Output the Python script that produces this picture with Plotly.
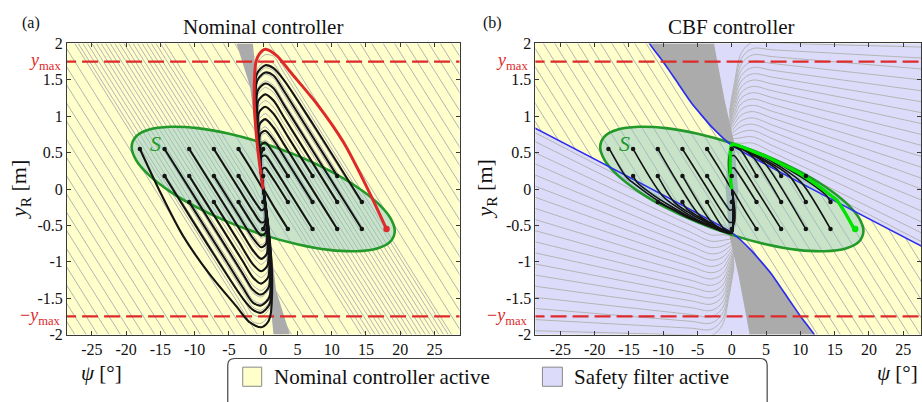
import plotly.graph_objects as go

W, H = 922, 402
FONT = "Liberation Serif"

# ---------------- values ----------------
psi_tick_vals = [-25, -20, -15, -10, -5, 0, 5, 10, 15, 20, 25]
psi_tick_text = ["-25", "-20", "-15", "-10", "-5", "0", "5", "10", "15", "20", "25"]
y_tick_vals = [2, 1.5, 1, 0.5, 0, -0.5, -1, -1.5, -2]
y_tick_text = ["2", "1.5", "1", "0.5", "0", "-0.5", "-1", "-1.5", "-2"]
psi_range_left = [-28.65, 28.65]
psi_range_right = [-28.65, 27.6]
y_range = [-2.0, 2.0]
y_max = 1.75

# safe set S (ellipse boundary)
ellipse_psi = [19.2, 18.55, 16.63, 13.58, 9.6, 4.97, 0, -4.97, -9.6, -13.58, -16.63, -18.55,
               -19.2, -18.55, -16.63, -13.58, -9.6, -4.97, 0, 4.97, 9.6, 13.58, 16.63, 18.55, 19.2]
ellipse_y = [-0.58, -0.397, -0.187, 0.035, 0.256, 0.459, 0.63, 0.759, 0.836, 0.855, 0.817, 0.723,
             0.58, 0.397, 0.187, -0.035, -0.256, -0.459, -0.63, -0.759, -0.836, -0.855, -0.817, -0.723, -0.58]

# initial conditions (black dots)
ic_psi = [14.4, 14.4, 10.8, 10.8, 10.8, 7.2, 7.2, 7.2, 3.6, 3.6, 3.6, 0, 0,
          -18, -14.4, -14.4, -10.8, -10.8, -10.8, -7.2, -7.2, -7.2, -3.6, -3.6, -3.6, 0, 0]
ic_y = [-0.55, -0.18, -0.55, -0.18, 0.18, -0.55, -0.18, 0.18, -0.55, -0.18, 0.18, -0.55, -0.18,
        0.55, 0.55, 0.18, 0.55, 0.18, -0.18, 0.55, 0.18, -0.18, 0.55, 0.18, -0.18, 0.55, 0.18]
worst_psi = [18.0]
worst_y = [-0.55]

# nominal controller: trajectories
nominal_worst = [(18.0, -0.55), (15.1, 0.03), (11.7, 0.645), (7.83, 1.17), (3.94, 1.61), (2.0, 1.83),
                 (0.3, 1.92), (-0.6, 1.85), (-1.05, 1.75), (-1.25, 1.55), (-1.3, 1.17), (-0.9, 0.64),
                 (-0.4, 0.25), (0, 0)]
nominal_paths = [
    [(14.4, -0.55), (7.2, 0.53), (3.0, 1.16), (1.5, 1.385), (0.3, 1.45), (-0.8, 1.35), (-0.99, 0.87), (-0.65, 0.48), (0, 0)],
    [(14.4, -0.18), (7.2, 0.90), (3.0, 1.50), (1.5, 1.66), (0.3, 1.70), (-0.94, 1.58), (-1.16, 1.02), (-0.77, 0.56), (0, 0)],
    [(10.8, -0.55), (5.4, 0.26), (3.0, 0.62), (1.5, 0.845), (0.3, 0.96), (-0.53, 0.89), (-0.65, 0.58), (-0.43, 0.32), (0, 0)],
    [(10.8, -0.18), (5.4, 0.63), (3.0, 0.99), (1.5, 1.215), (0.3, 1.30), (-0.72, 1.21), (-0.88, 0.78), (-0.59, 0.43), (0, 0)],
    [(10.8, 0.18), (5.4, 0.99), (3.0, 1.35), (1.5, 1.56), (0.3, 1.60), (-0.88, 1.49), (-1.09, 0.96), (-0.72, 0.53), (0, 0)],
    [(7.2, -0.55), (3.6, -0.01), (1.5, 0.305), (0.3, 0.46), (-0.26, 0.44), (-0.33, 0.29), (-0.22, 0.16), (0, 0)],
    [(7.2, -0.18), (3.6, 0.36), (1.5, 0.675), (0.3, 0.80), (-0.45, 0.75), (-0.55, 0.49), (-0.36, 0.27), (0, 0)],
    [(7.2, 0.18), (3.6, 0.72), (1.5, 1.035), (0.3, 1.13), (-0.62, 1.05), (-0.77, 0.68), (-0.51, 0.37), (0, 0)],
    [(3.6, -0.55), (1.8, -0.28), (0.8, -0.12), (0.3, -0.04), (0, 0)],
    [(3.6, -0.18), (1.8, 0.09), (0.8, 0.23), (0.3, 0.29), (-0.17, 0.27), (-0.2, 0.17), (-0.12, 0.09), (0, 0)],
    [(3.6, 0.18), (1.8, 0.45), (0.8, 0.59), (0.3, 0.64), (-0.36, 0.6), (-0.44, 0.39), (-0.29, 0.21), (0, 0)],
    [(0, -0.55), (0.4, -0.45), (0.45, -0.3), (0.25, -0.14), (0, 0)],
    [(0, -0.18), (0.15, -0.12), (0.1, -0.05), (0, 0)],
    [(-18.0, 0.55), (-15.1, -0.03), (-11.7, -0.645), (-7.83, -1.17), (-3.94, -1.61), (-2.0, -1.83), (-0.3, -1.9),
     (0.6, -1.84), (1.05, -1.74), (1.25, -1.55), (1.3, -1.17), (0.9, -0.64), (0.4, -0.25), (0, 0)],
    [(-14.4, 0.55), (-7.2, -0.53), (-3.0, -1.16), (-1.5, -1.385), (-0.3, -1.45), (0.8, -1.35), (0.99, -0.87), (0.65, -0.48), (0, 0)],
    [(-14.4, 0.18), (-7.2, -0.90), (-3.0, -1.50), (-1.5, -1.66), (-0.3, -1.70), (0.94, -1.58), (1.16, -1.02), (0.77, -0.56), (0, 0)],
    [(-10.8, 0.55), (-5.4, -0.26), (-3.0, -0.62), (-1.5, -0.845), (-0.3, -0.96), (0.53, -0.89), (0.65, -0.58), (0.43, -0.32), (0, 0)],
    [(-10.8, 0.18), (-5.4, -0.63), (-3.0, -0.99), (-1.5, -1.215), (-0.3, -1.30), (0.72, -1.21), (0.88, -0.78), (0.59, -0.43), (0, 0)],
    [(-10.8, -0.18), (-5.4, -0.99), (-3.0, -1.35), (-1.5, -1.56), (-0.3, -1.60), (0.88, -1.49), (1.09, -0.96), (0.72, -0.53), (0, 0)],
    [(-7.2, 0.55), (-3.6, 0.01), (-1.5, -0.305), (-0.3, -0.46), (0.26, -0.44), (0.33, -0.29), (0.22, -0.16), (0, 0)],
    [(-7.2, 0.18), (-3.6, -0.36), (-1.5, -0.675), (-0.3, -0.80), (0.45, -0.75), (0.55, -0.49), (0.36, -0.27), (0, 0)],
    [(-7.2, -0.18), (-3.6, -0.72), (-1.5, -1.035), (-0.3, -1.13), (0.62, -1.05), (0.77, -0.68), (0.51, -0.37), (0, 0)],
    [(-3.6, 0.55), (-1.8, 0.28), (-0.8, 0.12), (-0.3, 0.04), (0, 0)],
    [(-3.6, 0.18), (-1.8, -0.09), (-0.8, -0.23), (-0.3, -0.29), (0.17, -0.27), (0.2, -0.17), (0.12, -0.09), (0, 0)],
    [(-3.6, -0.18), (-1.8, -0.45), (-0.8, -0.59), (-0.3, -0.64), (0.36, -0.6), (0.44, -0.39), (0.29, -0.21), (0, 0)],
    [(0, 0.55), (-0.4, 0.45), (-0.45, 0.3), (-0.25, 0.14), (0, 0)],
    [(0, 0.18), (-0.15, 0.12), (-0.1, 0.05), (0, 0)],
]

# CBF controller: trajectories
cbf_worst = [(17.8, -0.54), (15.5, -0.175), (14.6, -0.1), (12.2, 0.07), (9.8, 0.22), (7.3, 0.34), (4.9, 0.45),
             (3.0, 0.52), (1.5, 0.58), (0, 0.61), (-0.2, 0.5), (-0.25, 0.3), (-0.15, 0.1), (0, 0)]
cbf_paths = [
    [(14.4, -0.55), (10.1, 0.095), (7.5, 0.28), (4.9, 0.43), (2.5, 0.53), (1.0, 0.58), (0, 0.6), (-0.2, 0.48), (-0.25, 0.3), (-0.15, 0.1), (0, 0)],
    [(14.4, -0.18), (13.8, -0.09), (11.5, 0.08), (9.0, 0.23), (6.0, 0.39), (3.0, 0.51), (1.0, 0.58), (0, 0.6), (-0.2, 0.48), (-0.25, 0.3), (-0.15, 0.1), (0, 0)],
    [(10.8, -0.55), (4.7, 0.365), (3.0, 0.47), (1.5, 0.55), (0, 0.6), (-0.2, 0.48), (-0.25, 0.3), (-0.15, 0.1), (0, 0)],
    [(10.8, -0.18), (8.4, 0.18), (6.0, 0.34), (3.5, 0.47), (1.5, 0.56), (0, 0.6), (-0.2, 0.48), (-0.25, 0.3), (-0.15, 0.1), (0, 0)],
    [(10.8, 0.18), (8.5, 0.29), (6.0, 0.41), (3.5, 0.50), (1.5, 0.57), (0, 0.6), (-0.2, 0.48), (-0.25, 0.3), (-0.15, 0.1), (0, 0)],
    [(7.2, -0.55), (3.6, -0.01), (1.5, 0.305), (0.3, 0.46), (-0.26, 0.44), (-0.33, 0.29), (-0.22, 0.16), (0, 0)],
    [(7.2, -0.18), (3.0, 0.45), (1.5, 0.55), (0, 0.6), (-0.2, 0.48), (-0.25, 0.3), (-0.15, 0.1), (0, 0)],
    [(7.2, 0.18), (6.6, 0.27), (4.5, 0.40), (2.5, 0.51), (1.0, 0.57), (0, 0.6), (-0.2, 0.48), (-0.25, 0.3), (-0.15, 0.1), (0, 0)],
    [(3.6, -0.55), (1.8, -0.28), (0.8, -0.12), (0.3, -0.04), (0, 0)],
    [(3.6, -0.18), (1.8, 0.09), (0.8, 0.23), (0.3, 0.29), (-0.17, 0.27), (-0.2, 0.17), (-0.12, 0.09), (0, 0)],
    [(3.6, 0.18), (1.2, 0.54), (0.4, 0.58), (0, 0.6), (-0.2, 0.48), (-0.25, 0.3), (-0.15, 0.1), (0, 0)],
    [(0, -0.55), (0.4, -0.45), (0.45, -0.3), (0.25, -0.14), (0, 0)],
    [(0, -0.18), (0.15, -0.12), (0.1, -0.05), (0, 0)],
    [(-17.8, 0.54), (-15.5, 0.175), (-14.6, 0.1), (-12.2, -0.07), (-9.8, -0.22), (-7.3, -0.34), (-4.9, -0.45),
     (-3.0, -0.52), (-1.5, -0.58), (0, -0.61), (0.2, -0.5), (0.25, -0.3), (0.15, -0.1), (0, 0)],
    [(-14.4, 0.55), (-10.1, -0.095), (-7.5, -0.28), (-4.9, -0.43), (-2.5, -0.53), (-1.0, -0.58), (0, -0.6), (0.2, -0.48), (0.25, -0.3), (0.15, -0.1), (0, 0)],
    [(-14.4, 0.18), (-13.8, 0.09), (-11.5, -0.08), (-9.0, -0.23), (-6.0, -0.39), (-3.0, -0.51), (-1.0, -0.58), (0, -0.6), (0.2, -0.48), (0.25, -0.3), (0.15, -0.1), (0, 0)],
    [(-10.8, 0.55), (-4.7, -0.365), (-3.0, -0.47), (-1.5, -0.55), (0, -0.6), (0.2, -0.48), (0.25, -0.3), (0.15, -0.1), (0, 0)],
    [(-10.8, 0.18), (-8.4, -0.18), (-6.0, -0.34), (-3.5, -0.47), (-1.5, -0.56), (0, -0.6), (0.2, -0.48), (0.25, -0.3), (0.15, -0.1), (0, 0)],
    [(-10.8, -0.18), (-8.5, -0.29), (-6.0, -0.41), (-3.5, -0.50), (-1.5, -0.57), (0, -0.6), (0.2, -0.48), (0.25, -0.3), (0.15, -0.1), (0, 0)],
    [(-7.2, 0.55), (-3.6, 0.01), (-1.5, -0.305), (-0.3, -0.46), (0.26, -0.44), (0.33, -0.29), (0.22, -0.16), (0, 0)],
    [(-7.2, 0.18), (-3.0, -0.45), (-1.5, -0.55), (0, -0.6), (0.2, -0.48), (0.25, -0.3), (0.15, -0.1), (0, 0)],
    [(-7.2, -0.18), (-6.6, -0.27), (-4.5, -0.40), (-2.5, -0.51), (-1.0, -0.57), (0, -0.6), (0.2, -0.48), (0.25, -0.3), (0.15, -0.1), (0, 0)],
    [(-3.6, 0.55), (-1.8, 0.28), (-0.8, 0.12), (-0.3, 0.04), (0, 0)],
    [(-3.6, 0.18), (-1.8, -0.09), (-0.8, -0.23), (-0.3, -0.29), (0.17, -0.27), (0.2, -0.17), (0.12, -0.09), (0, 0)],
    [(-3.6, -0.18), (-1.2, -0.54), (-0.4, -0.58), (0, -0.6), (0.2, -0.48), (0.25, -0.3), (0.15, -0.1), (0, 0)],
    [(0, 0.55), (-0.4, 0.45), (-0.45, 0.3), (-0.25, 0.14), (0, 0)],
    [(0, 0.18), (-0.15, 0.12), (-0.1, 0.05), (0, 0)],
]

# background streamlines: slope of the nominal flow lines and their y-intercepts at psi = 0
stream_slope = 0.15
stream_intercepts = [-6.125, -5.875, -5.625, -5.375, -5.125, -4.875, -4.625, -4.375, -4.125, -3.875,
                     -3.625, -3.375, -3.125, -2.875, -2.625, -2.375, -2.125, -1.875, -1.625, -1.375,
                     -1.125, -0.875, -0.625, -0.375, -0.125, 0.125, 0.375, 0.625, 0.875, 1.125, 1.375,
                     1.625, 1.875, 2.125, 2.375, 2.625, 2.875, 3.125, 3.375, 3.625, 3.875, 4.125, 4.375,
                     4.625, 4.875, 5.125, 5.375, 5.625, 5.875, 6.125]
# heights of the grey humps / loops near psi = 0 (nominal controller)
hump_levels = [0.15, 0.25, 0.35, 0.45, 0.55, 0.65, 0.75, 0.85, 0.95, 1.05, 1.15, 1.25, 1.35,
               1.45, 1.55, 1.65, 1.75, 1.85, 1.95, 2.05]
# safety-filter streamlines: edge heights where they enter the panel
cbf_edge_levels = [1.95, 1.80, 1.65, 1.50, 1.35, 1.20, 1.05, 0.90, 0.75, 0.60, 0.45,
                   0.30, 0.15, 0.00, -0.15, -0.30, -0.45, -0.60, -0.72]

# dense convergence wedge of the nominal flow
wedge_psi = [-3.9, -1.5, -0.7, -0.05, 0.35, 0.9, 1.9, 3.9, 1.5, 0.7, 0.05, -0.35, -0.9, -1.9, -3.9]
wedge_y = [2.0, 2.0, 1.2, 0.4, 0.0, -0.6, -1.4, -2.0, -2.0, -1.2, -0.4, 0.0, 0.6, 1.4, 2.0]

# CBF regions (safety filter active) and boundaries
lav_up_psi = [-12.1, 29.0, 29.0, 0.0, -2.9, -5.8, -8.2, -10.1, -12.0]
lav_up_y = [2.1, 2.1, -0.85, 0.6, 0.85, 1.17, 1.5, 1.76, 2.0]
lav_dn_psi = [12.1, -29.0, -29.0, 0.0, 2.9, 5.8, 8.2, 10.1, 12.0]
lav_dn_y = [-2.1, -2.1, 0.85, -0.6, -0.85, -1.17, -1.5, -1.76, -2.0]
blue_up_psi = [29.0, 0.0, -2.9, -5.8, -8.2, -10.1, -12.0, -12.1]
blue_up_y = [-0.85, 0.6, 0.85, 1.17, 1.5, 1.76, 2.0, 2.1]
blue_dn_psi = [-29.0, 0.0, 2.9, 5.8, 8.2, 10.1, 12.0, 12.1]
blue_dn_y = [0.85, -0.6, -0.85, -1.17, -1.5, -1.76, -2.0, -2.1]
band_psi = [-12.0, -2.6, -1.0, -0.2, 0.4, 0.9, 0.6, 0.0, 2.9, 5.8, 8.2, 10.1, 12.0,
            2.6, 1.0, 0.2, -0.4, -0.9, -0.6, 0.0, -2.9, -5.8, -8.2, -10.1, -12.0]
band_y = [2.0, 2.0, 1.2, 0.85, 0.62, 0.0, -0.5, -0.6, -0.85, -1.17, -1.5, -1.76, -2.0,
          -2.0, -1.2, -0.85, -0.62, 0.0, 0.5, 0.6, 0.85, 1.17, 1.5, 1.76, 2.0]

# ---------------- styles ----------------
YELLOW = "#ffffcc"
LAVENDER = "#dcdcfa"
GRAY = "#b4b4b4"
DENSE = "#ababab"
RED = "#dd2a2a"
GREEN_S = "#23992a"
FILL_S = "rgba(145,200,195,0.5)"
BLUE = "#2d2df0"
LIME = "#00e400"
BLACK = "#141414"

fig = go.Figure()


def add_paths(paths, xa, ya, color, width, shape="spline", smoothing=0.8):
    xs, ys = [], []
    for p in paths:
        for a, b in p:
            xs.append(a)
            ys.append(b)
        xs.append(None)
        ys.append(None)
    fig.add_trace(go.Scatter(x=xs, y=ys, mode="lines", xaxis=xa, yaxis=ya, hoverinfo="skip",
                             showlegend=False,
                             line=dict(color=color, width=width, shape=shape, smoothing=smoothing)))


def add_poly(px_, py_, xa, ya, color):
    fig.add_trace(go.Scatter(x=px_, y=py_, mode="lines", fill="toself", fillcolor=color,
                             line=dict(width=0, color=color), xaxis=xa, yaxis=ya,
                             hoverinfo="skip", showlegend=False))


def straight(I):
    s = stream_slope
    return [((I - 2.0) / s, 2.0), ((I + 2.0) / s, -2.0)]


def feed(I):
    s = stream_slope
    return [((I - 2.0) / s, 2.0), (-0.8 * I, 1.12 * I)]


def hump(I):
    s = stream_slope
    h = 0.9 * I
    return [((I + 2.0) / s, -2.0), (3.0, I - 3 * s), (1.5, I - 1.5 * s), (0.3, h),
            (-0.55 * h, 0.93 * h), (-0.68 * h, 0.6 * h), (-0.45 * h, 0.33 * h), (0.0, 0.0)]


def flip(p):
    return [(-a, -b) for a, b in p]


def cbf_arc(level):
    a = 0.05 * (2.1 - level) / 2.9
    pts = [(q, level + a * (27.6 - q)) for q in (28.7, 20.0, 12.0, 6.0, 3.0)]
    y3 = pts[-1][1]
    d = y3 - 0.6
    pts += [(1.4, y3 - 0.1 * d), (0.4, 0.62 + 0.6 * d), (-0.3, 0.66 + 0.3 * d)]
    return pts


# ---------------- left panel: nominal controller ----------------
left_straight = []
for I in stream_intercepts:
    if abs(I) >= 2.0:
        left_straight.append(straight(I))
    elif I > 0:
        left_straight.append(feed(I))
    else:
        left_straight.append(flip(feed(-I)))
left_curved = [hump(L) for L in hump_levels] + [flip(hump(L)) for L in hump_levels]
add_paths(left_straight, "x", "y", GRAY, 1.0, shape="linear")
add_paths(left_curved, "x", "y", GRAY, 1.0, smoothing=0.7)
add_poly(wedge_psi, wedge_y, "x", "y", DENSE)

# ---------------- right panel: CBF controller ----------------
add_paths([straight(I) for I in stream_intercepts], "x2", "y2", GRAY, 1.0, shape="linear")
add_poly(lav_up_psi, lav_up_y, "x2", "y2", LAVENDER)
add_poly(lav_dn_psi, lav_dn_y, "x2", "y2", LAVENDER)
arcs = [cbf_arc(L) for L in cbf_edge_levels] + [flip(cbf_arc(L)) for L in cbf_edge_levels]
add_paths(arcs, "x2", "y2", GRAY, 1.0, smoothing=1.0)
add_poly(band_psi, band_y, "x2", "y2", DENSE)

for xa, ya in (("x", "y"), ("x2", "y2")):
    fig.add_trace(go.Scatter(x=ellipse_psi, y=ellipse_y, mode="lines", fill="toself", fillcolor=FILL_S,
                             line=dict(color=GREEN_S, width=2.6, shape="spline", smoothing=1.0),
                             xaxis=xa, yaxis=ya, hoverinfo="skip", showlegend=False))

for bx, by in ((blue_up_psi, blue_up_y), (blue_dn_psi, blue_dn_y)):
    fig.add_trace(go.Scatter(x=bx, y=by, mode="lines", xaxis="x2", yaxis="y2",
                             line=dict(color=BLUE, width=1.7, shape="spline", smoothing=0.4),
                             hoverinfo="skip", showlegend=False))

for xa, ya, rng in (("x", "y", psi_range_left), ("x2", "y2", psi_range_right)):
    for yy in (y_max, -y_max):
        fig.add_trace(go.Scatter(x=[rng[0] - 1, rng[1] + 2], y=[yy, yy], mode="lines", xaxis=xa, yaxis=ya,
                                 line=dict(color=RED, width=2.2, dash="16px,6px"),
                                 hoverinfo="skip", showlegend=False))

# trajectories
add_paths(nominal_paths, "x", "y", BLACK, 2.1)
add_paths([nominal_worst], "x", "y", RED, 3.0)
add_paths(cbf_paths, "x2", "y2", BLACK, 1.6)
add_paths([cbf_worst], "x2", "y2", LIME, 3.4)

for xa, ya, col in (("x", "y", RED), ("x2", "y2", LIME)):
    fig.add_trace(go.Scatter(x=ic_psi, y=ic_y, mode="markers", xaxis=xa, yaxis=ya,
                             marker=dict(color=BLACK, size=4.5), hoverinfo="skip", showlegend=False))
    fig.add_trace(go.Scatter(x=worst_psi, y=worst_y, mode="markers", xaxis=xa, yaxis=ya,
                             marker=dict(color=col, size=6.5), hoverinfo="skip", showlegend=False))


# ---------------- layout ----------------
def px(x):
    return x / W


def py(y):
    return 1 - y / H


axis_common = dict(showgrid=False, zeroline=False, showline=True, linecolor="#3a3a3a", linewidth=1,
                   mirror="ticks", ticks="inside", ticklen=4, tickcolor="#3a3a3a",
                   tickfont=dict(family=FONT, size=16, color="#111"))
ydom = [py(341), py(37)]
fig.update_layout(
    width=W, height=H, margin=dict(l=0, r=0, t=0, b=0),
    paper_bgcolor="white", plot_bgcolor=YELLOW, showlegend=False,
    xaxis=dict(domain=[px(67), px(460)], range=psi_range_left, anchor="y",
               tickvals=psi_tick_vals, ticktext=psi_tick_text, **axis_common),
    yaxis=dict(domain=ydom, range=y_range, anchor="x",
               tickvals=y_tick_vals, ticktext=y_tick_text, **axis_common),
    xaxis2=dict(domain=[px(536), 1.0], range=psi_range_right, anchor="y2",
                tickvals=psi_tick_vals, ticktext=psi_tick_text, **axis_common),
    yaxis2=dict(domain=ydom, range=y_range, anchor="x2",
                tickvals=y_tick_vals, ticktext=y_tick_text, **axis_common),
)

ann = []


def text(x, y, s, size, color="#111", xanchor="center", angle=0, xref="paper", yref="paper"):
    ann.append(dict(x=x, y=y, xref=xref, yref=yref, text=s, showarrow=False, xanchor=xanchor,
                    yanchor="middle", textangle=angle, font=dict(family=FONT, size=size, color=color)))


text(px(263), py(20), "Nominal controller", 21)
text(px(732), py(20), "CBF controller", 21)
text(px(31), py(16), "(a)", 16)
text(px(493), py(16), "(b)", 16)
text(px(20), py(189), "<i>y</i><sub>R</sub> [m]", 22, angle=-90)
text(px(487), py(189), "<i>y</i><sub>R</sub> [m]", 22, angle=-90)
text(px(102), py(381), "<i>ψ</i> [°]", 21)
text(px(921), py(381), "<i>ψ</i> [°]", 21, xanchor="right")
for xr, ar in ((px(63), "y"), (px(531), "y2")):
    text(xr, y_max, "<i>y</i><sub>max</sub>", 18, color=RED, xanchor="right", yref=ar)
    text(xr, -y_max, "−<i>y</i><sub>max</sub>", 18, color=RED, xanchor="right", yref=ar)
text(-15.7, 0.62, "<i>S</i>", 22, color=GREEN_S, xref="x", yref="y")
text(-15.7, 0.62, "<i>S</i>", 22, color=GREEN_S, xref="x2", yref="y2")

# legend box
text(px(272), py(385), "Nominal controller active", 21, xanchor="left")
text(px(573), py(385), "Safety filter active", 21, xanchor="left")
fig.update_layout(annotations=ann)

rx, ry = 7 / W, 7 / H
x0, x1, yt, yb = px(228), px(768), py(366), py(412)
path = (f"M {x0},{yb} L {x0},{yt - ry} Q {x0},{yt} {x0 + rx},{yt} L {x1 - rx},{yt} "
        f"Q {x1},{yt} {x1},{yt - ry} L {x1},{yb}")
shapes = [
    dict(type="path", xref="paper", yref="paper", path=path, fillcolor="white",
         line=dict(color="#444", width=1.2)),
    dict(type="rect", xref="paper", yref="paper", x0=px(243), x1=px(262), y0=py(395), y1=py(375),
         fillcolor=YELLOW, line=dict(color="#888", width=1)),
    dict(type="rect", xref="paper", yref="paper", x0=px(543), x1=px(563), y0=py(395), y1=py(375),
         fillcolor=LAVENDER, line=dict(color="#888", width=1)),
]
fig.update_layout(shapes=shapes)

fig.write_html("out.html", config={"displayModeBar": False},
               post_script="document.body.style.margin='0';document.body.style.overflow='hidden';")
